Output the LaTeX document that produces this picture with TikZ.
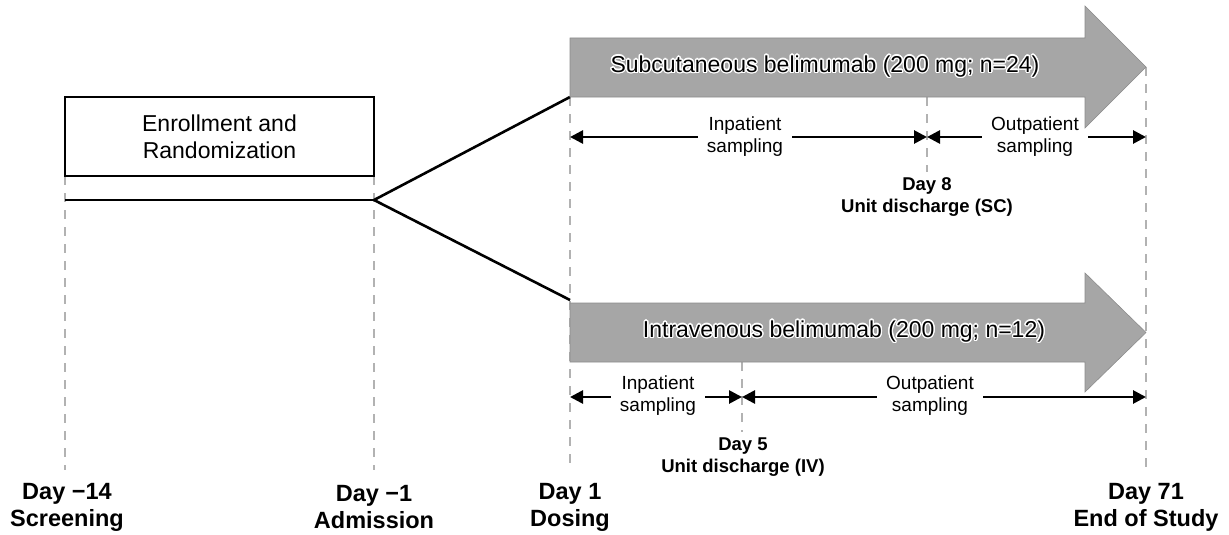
\documentclass[tikz,border=0pt]{standalone}
\usepackage{fontspec}
\setmainfont{Liberation Sans}
\usepackage{contour}
\contourlength{1.3pt}
\usetikzlibrary{arrows.meta}
\definecolor{armgray}{RGB}{166,166,166}
\definecolor{armedge}{RGB}{140,140,140}
\definecolor{dashgray}{RGB}{178,178,178}
\tikzset{
  guide/.style={draw=dashgray, line width=1.6pt, dash pattern=on 9pt off 8pt},
  link/.style={line width=2.6pt, line join=miter},
  phase/.style={line width=2.7pt, -{Triangle[length=13pt,width=13pt]}},
  smalltxt/.style={font=\fontsize{19}{22}\selectfont, align=center, inner xsep=9pt, inner ysep=0pt},
  daylbl/.style={font=\bfseries\fontsize{23.5}{27}\selectfont, align=center, inner sep=0pt},
  evtlbl/.style={font=\bfseries\fontsize{18.5}{22}\selectfont, align=center, inner sep=0pt},
  armtxt/.style={font=\fontsize{23}{26}\selectfont, inner sep=0pt},
  armshape/.style={fill=armgray, draw=armedge, line width=0.6pt},
}
\begin{document}
\begin{tikzpicture}[x=1pt,y=-1pt]
\useasboundingbox (0,0) rectangle (1229,535);
% key coordinates
\coordinate (s14) at (65,176);  \coordinate (s14b) at (65,470);
\coordinate (s1)  at (374,176); \coordinate (s1b)  at (374,470);
\coordinate (d1)  at (570,97);  \coordinate (d1b)  at (570,470);
\coordinate (d71) at (1146,67); \coordinate (d71b) at (1146,470);
\coordinate (d8)  at (927,97);  \coordinate (d8b)  at (927,172);
\coordinate (d5)  at (742,362); \coordinate (d5b)  at (742,432);
% guides
\draw[guide] (s14) -- (s14b);
\draw[guide] (s1) -- (s1b);
\draw[guide] (d1) -- (d1b);
\draw[guide] (d71) -- (d71b);
\draw[guide] (d8) -- (d8b);
\draw[guide] (d5) -- (d5b);
% enrollment
\node[draw, line width=2.6pt, minimum width=309pt, minimum height=79pt, inner sep=0pt,
      font=\fontsize{23}{27}\selectfont, align=center] (enroll) at (219.5,136.5) {Enrollment and\\Randomization};
\coordinate (lstart) at (65,200);
\coordinate (split) at (374,200);
\coordinate (scin) at (570,97);
\coordinate (ivin) at (570,300);
\draw[link] (lstart) -- (split);
\draw[link] (scin) -- (split) -- (ivin);
% arms
\path[armshape] (570,38) -- (1085,38) -- (1085,6) -- (1146,67) -- (1085,128) -- (1085,97) -- (570,97) -- cycle;
\path[armshape] (570,303) -- (1085,303) -- (1085,273) -- (1146,332.5) -- (1085,392) -- (1085,362) -- (570,362) -- cycle;
\node[armtxt] (sc) at (825,67) {\contour{white}{Subcutaneous belimumab (200 mg; n=24)}};
\node[armtxt] (iv) at (844,332) {\contour{white}{Intravenous belimumab (200 mg; n=12)}};
% sampling arrows SC
\coordinate (sca) at (570,137); \coordinate (scb) at (927,137); \coordinate (scc) at (1146,137);
\node[smalltxt] (scin1) at (745,137) {Inpatient\\sampling};
\node[smalltxt] (scout1) at (1035,137) {Outpatient\\sampling};
\draw[phase] (scin1.west |- sca) -- (sca);
\draw[phase] (scin1.east |- sca) -- (scb);
\draw[phase] (scout1.west |- sca) -- (scb);
\draw[phase] (scout1.east |- sca) -- (scc);
% sampling arrows IV
\coordinate (iva) at (570,397); \coordinate (ivb) at (742,397); \coordinate (ivc) at (1146,397);
\node[smalltxt] (ivin1) at (658,396) {Inpatient\\sampling};
\node[smalltxt] (ivout1) at (930,396) {Outpatient\\sampling};
\draw[phase] (ivin1.west |- iva) -- (iva);
\draw[phase] (ivin1.east |- iva) -- (ivb);
\draw[phase] (ivout1.west |- iva) -- (ivb);
\draw[phase] (ivout1.east |- iva) -- (ivc);
% event labels
\node[evtlbl] (ev8) at (927,197) {Day 8\\Unit discharge (SC)};
\node[evtlbl] (ev5) at (743,457) {Day 5\\Unit discharge (IV)};
% day labels
\node[daylbl] (l14) at (67,507) {Day \textminus14\\Screening};
\node[daylbl] (l1m) at (374,507) {Day \textminus1\\Admission};
\node[daylbl] (l1) at (570,507) {Day 1\\Dosing};
\node[daylbl] (l71) at (1146,507) {Day 71\\End of Study};
\end{tikzpicture}
\end{document}
